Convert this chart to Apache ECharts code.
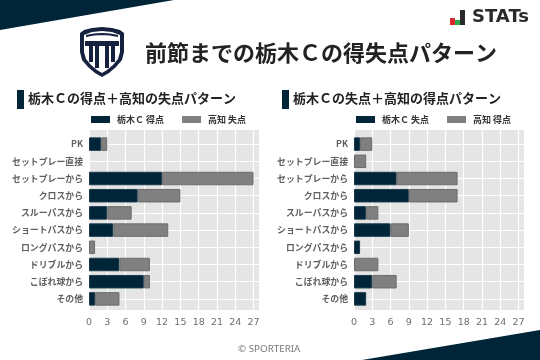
<!DOCTYPE html>
<html><head><meta charset="utf-8">
<style>html,body{margin:0;padding:0;background:#fff}#c{width:540px;height:360px}</style>
<script src="https://cdn.jsdelivr.net/npm/echarts@6/dist/echarts.min.js"></script>
</head><body><div id="c"></div>
<script>
const categories = ['PK','セットプレー直接','セットプレーから','クロスから','スルーパスから','ショートパスから','ロングパスから','ドリブルから','こぼれ球から','その他'];
const leftDark  = [2,0,12,8,3,4,0,5,9,1];
const leftGrey  = [1,0,15,7,4,9,1,5,1,4];
const rightDark = [1,0,7,9,2,6,1,0,3,2];
const rightGrey = [2,2,10,8,2,3,0,4,4,0];
const xTicksMax = 27.9;
const navy = '#002539', grey = '#808080', crest = '#16203f';
const font = '"Noto Sans CJK JP"';
const noZero = a => a.map(v => v === 0 ? null : v);

const chart = echarts.init(document.getElementById('c'), null, {renderer:'canvas'});
const panels = [
 {x:89, w:170, dark:leftDark, grey:leftGrey, names:['栃木Ｃ 得点','高知 失点'], lx:91, head:'栃木Ｃの得点＋高知の失点パターン'},
 {x:354, w:170, dark:rightDark, grey:rightGrey, names:['栃木Ｃ 失点','高知 得点'], lx:356, head:'栃木Ｃの失点＋高知の得点パターン'}
];
const grids=[],xAxes=[],yAxes=[],series=[],legends=[],titles=[];
panels.forEach((p,i)=>{
  const bg=i*2, fg=i*2+1;
  grids.push({left:p.x,width:p.w,top:130,height:180,backgroundColor:'#e5e5e5',show:true,borderWidth:0});
  grids.push({left:p.x,width:p.w,top:135.5,height:172,show:false});
  xAxes.push({gridIndex:bg,type:'value',min:0,max:xTicksMax,interval:3,
    axisLine:{show:false},axisTick:{show:false},
    axisLabel:{color:'#6e6e6e',fontSize:9.5,fontFamily:'"DejaVu Sans"',margin:8,showMaxLabel:false},
    splitLine:{show:true,lineStyle:{color:'#ffffff',width:1.2}}});
  yAxes.push({gridIndex:bg,type:'value',show:false,min:0,max:1,splitLine:{show:false}});
  xAxes.push({gridIndex:fg,type:'value',min:0,max:xTicksMax,show:false,splitLine:{show:false}});
  yAxes.push({gridIndex:fg,type:'category',inverse:true,data:categories,
    axisLine:{show:false},axisTick:{show:false},
    axisLabel:{color:'#5f5f5f',fontSize:8.9,fontWeight:'bold',fontFamily:font,margin:6},
    splitLine:{show:true,alignWithLabel:true,lineStyle:{color:'#ffffff',width:1.2}}});
  const style=c=>({color:c,borderColor:c===navy?'#1a3a4c':'#6c6c6c',borderWidth:1});
  series.push({type:'bar',name:p.names[0],xAxisIndex:fg,yAxisIndex:fg,stack:'s'+i,data:noZero(p.dark),barWidth:13.5,itemStyle:style(navy),z:3});
  series.push({type:'bar',name:p.names[1],xAxisIndex:fg,yAxisIndex:fg,stack:'s'+i,data:noZero(p.grey),barWidth:13.5,itemStyle:style(grey),z:3});
  legends.push({left:p.lx,top:115,padding:0,icon:'rect',itemWidth:19,itemHeight:7,itemGap:18,
    data:[{name:p.names[0],itemStyle:{color:navy,borderWidth:0}},{name:p.names[1],itemStyle:{color:grey,borderWidth:0}}],
    textStyle:{color:'#333',fontSize:9,fontWeight:'bold',fontFamily:font,padding:[0,0,0,2]},selectedMode:false});
  titles.push({text:p.head,left:i?293:28,top:92,padding:0,textStyle:{color:'#222',fontSize:13,fontWeight:'bold',fontFamily:font}});
});
titles.push({text:'前節までの栃木Ｃの得失点パターン',left:145,top:42,padding:0,textStyle:{color:'#222',fontSize:22,fontWeight:'bold',fontFamily:font}});
titles.push({text:'© SPORTERIA',left:238,top:344.5,padding:0,textStyle:{color:'#777',fontSize:9.8,fontWeight:'normal',fontFamily:'"Noto Sans"'}});
titles.push({text:'STATs',left:472,top:8,padding:0,textStyle:{color:'#2b2b2b',fontSize:18,fontWeight:'bold',fontFamily:'"DejaVu Sans"'}});

const shield=[[80,33],[84,30],[92,28],[102,27],[112,28],[120,30],[124,33],[124,52],[122,60],[116,67],[109,73],[102,77],[95,73],[88,67],[82,60],[80,52]];
const inner=[[84,35],[92,32],[102,31],[112,32],[120,35],[120,52],[118,59],[113,65],[107,70],[102,73],[97,70],[91,65],[86,59],[84,52]];
const graphic=[
 {type:'polygon',shape:{points:[[0,0],[174,0],[0,30]]},style:{fill:navy}},
 {type:'polygon',shape:{points:[[540,330],[540,360],[362,360]]},style:{fill:navy}},
 {type:'rect',shape:{x:17,y:90,width:7,height:19},style:{fill:navy}},
 {type:'rect',shape:{x:282,y:90,width:7,height:19},style:{fill:navy}},
 {type:'rect',shape:{x:450,y:18,width:5,height:7},style:{fill:'#d8262c'}},
 {type:'rect',shape:{x:455,y:20,width:5,height:5},style:{fill:'#2fa84f'}},
 {type:'rect',shape:{x:460,y:10,width:5,height:15},style:{fill:'#2b2b2b'}},
 {type:'polygon',shape:{points:shield},style:{fill:crest}},
 {type:'polygon',shape:{points:inner},style:{fill:'#fff'}},
 {type:'polyline',shape:{points:[[86,36],[94,34.5],[102,34],[110,34.5],[118,36]]},style:{stroke:crest,lineWidth:2,fill:'none'}},
 {type:'rect',shape:{x:85,y:41,width:34,height:5},style:{fill:crest}},
 {type:'rect',shape:{x:89,y:46,width:4,height:16},style:{fill:crest}},
 {type:'rect',shape:{x:95,y:46,width:4,height:22},style:{fill:crest}},
 {type:'rect',shape:{x:105,y:46,width:4,height:22},style:{fill:crest}},
 {type:'rect',shape:{x:111,y:46,width:4,height:16},style:{fill:crest}}
];
chart.setOption({animation:false,grid:grids,xAxis:xAxes,yAxis:yAxes,series,legend:legends,title:titles,graphic});
</script></body></html>
